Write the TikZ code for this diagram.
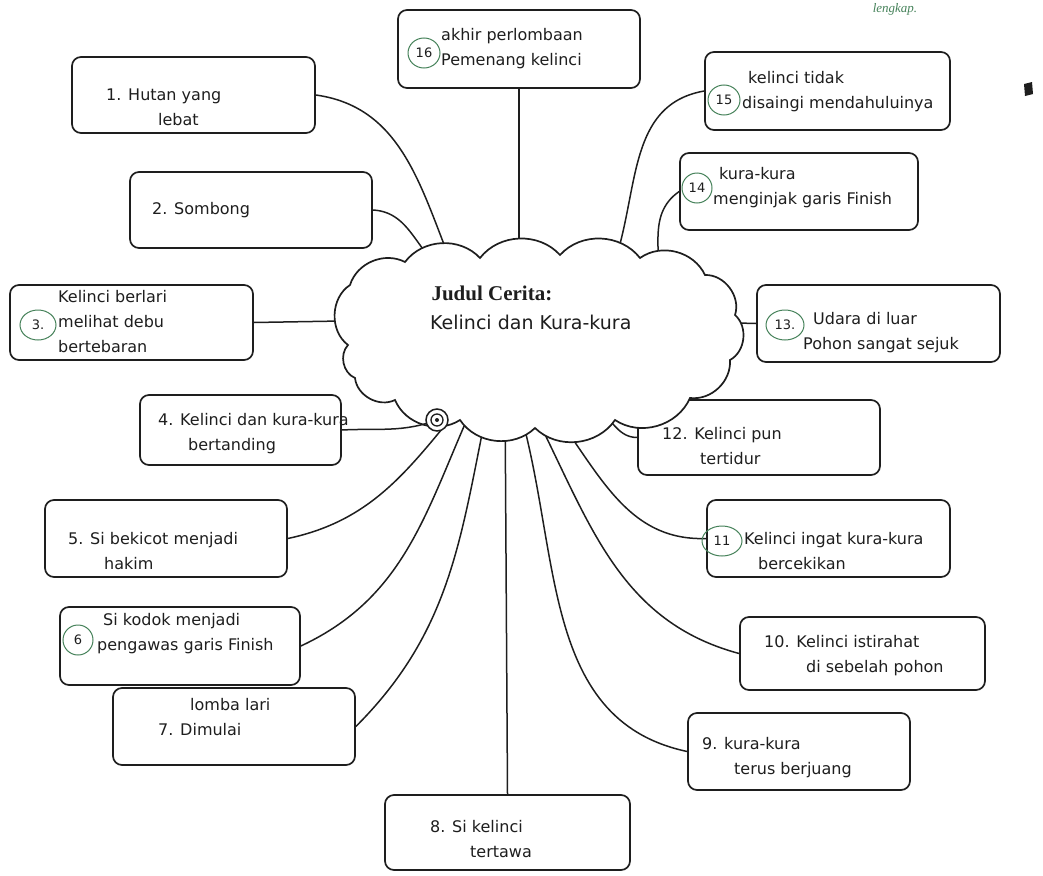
\documentclass[tikz,border=0pt]{standalone}
\usepackage{fontspec}
\setmainfont{Liberation Serif}
\newfontfamily\handfont{DejaVu Sans}
\usetikzlibrary{shapes.geometric}
\newcommand\hw{\handfont\fontsize{16}{25}\selectfont}
\definecolor{ink}{RGB}{30,30,30}
\definecolor{pencilgreen}{RGB}{70,130,90}
\tikzset{
  box/.style={draw=ink, line width=1.7pt, rounded corners=9pt, fill=white},
  link/.style={draw=ink, line width=1.5pt},
  txt/.style={anchor=west, inner sep=0pt, font=\hw, align=left, text=ink},
  numc/.style={draw=pencilgreen, line width=1pt, ellipse, inner sep=1pt,
               minimum width=#1, minimum height=30pt, font=\hw\fontsize{13}{14}\selectfont, text=ink},
  numc/.default=32pt
}
\begin{document}
\begin{tikzpicture}[x=1pt,y=1pt]
\useasboundingbox (0,0) rectangle (1043,-875);

% event boxes
\node[box, minimum width=242pt, minimum height=78pt] (b16) at (519,-49) {};
\node[box, minimum width=243pt, minimum height=76pt] (b1)  at (193.5,-95) {};
\node[box, minimum width=245pt, minimum height=78pt] (b15) at (827.5,-91) {};
\node[box, minimum width=242pt, minimum height=76pt] (b2)  at (251,-210) {};
\node[box, minimum width=238pt, minimum height=77pt] (b14) at (799,-191.5) {};
\node[box, minimum width=243pt, minimum height=75pt] (b3)  at (131.5,-322.5) {};
\node[box, minimum width=243pt, minimum height=77pt] (b13) at (878.5,-323.5) {};
\node[box, minimum width=201pt, minimum height=70pt] (b4)  at (240.5,-430) {};
\node[box, minimum width=242pt, minimum height=75pt] (b12) at (759,-437.5) {};
\node[box, minimum width=242pt, minimum height=77pt] (b5)  at (166,-538.5) {};
\node[box, minimum width=243pt, minimum height=77pt] (b11) at (828.5,-538.5) {};
\node[box, minimum width=240pt, minimum height=78pt] (b6)  at (180,-646) {};
\node[box, minimum width=245pt, minimum height=73pt] (b10) at (862.5,-653.5) {};
\node[box, minimum width=242pt, minimum height=77pt] (b7)  at (234,-726.5) {};
\node[box, minimum width=222pt, minimum height=77pt] (b9)  at (799,-751.5) {};
\node[box, minimum width=245pt, minimum height=75pt] (b8)  at (507.5,-832.5) {};

% end points inside the cloud
\coordinate (c16) at (519,-300);
\coordinate (c1)  at (465,-295);
\coordinate (c2)  at (450,-275);
\coordinate (c15) at (600,-295);
\coordinate (c14) at (655,-300);
\coordinate (c3)  at (400,-320);
\coordinate (c13) at (700,-322);
\coordinate (c12) at (590,-405);
\coordinate (c5)  at (470,-395);
\coordinate (c6)  at (478,-395);
\coordinate (c7)  at (490,-395);
\coordinate (c8)  at (505,-395);
\coordinate (c9)  at (515,-395);
\coordinate (c10) at (525,-395);
\coordinate (c11) at (540,-395);
\coordinate (sp)  at (437,-420);

% connectors
\draw[link] (b16.south) -- (c16);
\draw[link] (b1.east) to[out=-8, in=115] (c1);
\draw[link] (b2.east) to[out=-3, in=150] (c2);
\draw[link] (b15.west) to[out=190, in=60] (c15);
\draw[link] (b14.west) to[out=215, in=75] (c14);
\draw[link] (b3.east) -- (c3);
\draw[link] (b13.west) -- (c13);
\draw[link] (b12.west) to[out=180, in=-20] (c12);
\draw[link] (b5.east) to[out=12, in=230] (c5);
\draw[link] (b6.east) to[out=25, in=245] (c6);
\draw[link] (b7.east) to[out=45, in=258] (c7);
\draw[link] (b8.north) -- (c8);
\draw[link] (b9.west) to[out=168, in=288] (c9);
\draw[link] (b10.west) to[out=165, in=298] (c10);
\draw[link] (b11.west) to[out=182, in=310] (c11);

% title cloud
\draw[line width=1.7pt, draw=ink, fill=white]
  (348,-345) to[bend left=55] (350,-285) to[bend left=50] (405,-262)
  to[bend left=50] (480,-258) to[bend left=50] (560,-255)
  to[bend left=50] (640,-258) to[bend left=50] (705,-275)
  to[bend left=55] (735,-315) to[bend left=55] (730,-360)
  to[bend left=50] (690,-398) to[bend left=50] (615,-420)
  to[bend left=50] (535,-428) to[bend left=50] (460,-420)
  to[bend left=50] (395,-400) to[bend left=55] (355,-378)
  to[bend left=55] (348,-345) -- cycle;
\draw[link] (b4.east) to[out=3, in=200] (sp);

% small scribbled ring on the cloud edge
\draw[ink, line width=1.5pt, fill=white] (sp) circle (11pt);
\draw[ink, line width=1.3pt] (sp) circle (6pt);
\fill[ink] (sp) circle (2pt);

\node[anchor=west, font=\bfseries\fontsize{21}{24}\selectfont, text=ink] (title) at (428,-293) {Judul Cerita:};
\node[txt, font=\handfont\fontsize{19}{22}\selectfont] (story) at (430,-322) {Kelinci dan Kura-kura};

% green number rings
\node[numc=32pt] (n16) at (424,-53) {16};
\node[numc=32pt] (n15) at (724,-100) {15};
\node[numc=30pt] (n14) at (697,-188) {14};
\node[numc=36pt] (n3)  at (38,-325) {3.};
\node[numc=38pt] (n13) at (785,-325) {13.};
\node[numc=40pt] (n11) at (722,-541) {11};
\node[numc=30pt] (n6)  at (78,-640) {6};

% handwritten entries
\node[txt] (t16) at (441,-49) {akhir perlombaan\\Pemenang kelinci};
\node[txt] (t1)  at (106,-107) {1. Hutan yang\\\hspace*{52pt}lebat};
\node[txt] (t15) at (742,-92) {\hspace*{6pt}kelinci tidak\\disaingi mendahuluinya};
\node[txt] (t2)  at (152,-210) {2. Sombong};
\node[txt] (t14) at (713,-188) {\hspace*{6pt}kura-kura\\menginjak garis Finish};
\node[txt] (t3)  at (58,-322) {Kelinci berlari\\melihat debu\\bertebaran};
\node[txt] (t13) at (803,-333) {\hspace*{10pt}Udara di luar\\Pohon sangat sejuk};
\node[txt] (t4)  at (158,-434) {4. Kelinci dan kura-kura\\\hspace*{30pt}bertanding};
\node[txt] (t12) at (662,-446) {12. Kelinci pun\\\hspace*{38pt}tertidur};
\node[txt] (t5)  at (68,-551) {5. Si bekicot menjadi\\\hspace*{36pt}hakim};
\node[txt] (t11) at (744,-551) {Kelinci ingat kura-kura\\\hspace*{14pt}bercekikan};
\node[txt] (t6)  at (97,-634) {\hspace*{6pt}Si kodok menjadi\\pengawas garis Finish};
\node[txt] (t10) at (764,-656) {10. Kelinci istirahat\\\hspace*{42pt}di sebelah pohon};
\node[txt] (t7)  at (158,-717) {\hspace*{32pt}lomba lari\\7. Dimulai};
\node[txt] (t9)  at (702,-758) {9. kura-kura\\\hspace*{32pt}terus berjuang};
\node[txt] (t8)  at (430,-839) {8. Si kelinci\\\hspace*{40pt}tertawa};

% pencil note at the top edge and a stray mark
\node[anchor=center, font=\itshape\fontsize{13}{14}\selectfont, text=pencilgreen] (note) at (895,-9) {lengkap.};
\fill[ink] (1024,-84) -- (1032,-82) -- (1033,-94) -- (1025,-96) -- cycle;
\end{tikzpicture}
\end{document}
